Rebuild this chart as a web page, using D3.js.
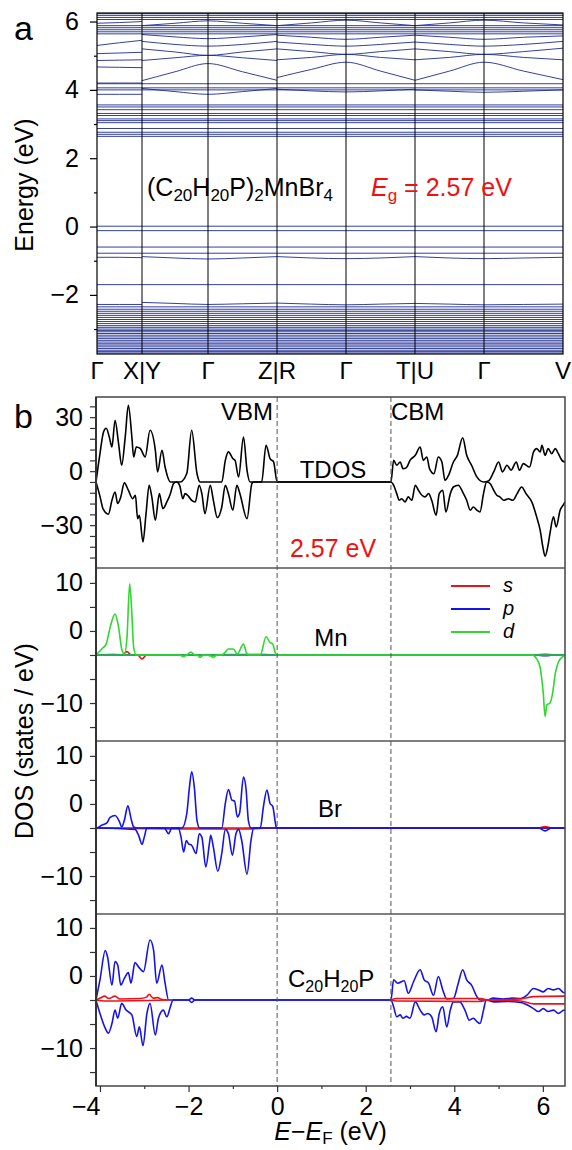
<!DOCTYPE html>
<html>
<head>
<meta charset="utf-8">
<script src="https://cdn.jsdelivr.net/npm/d3@7"></script>
<style>
  body { margin: 0; background: #fff; }
  svg { display: block; font-family: "Liberation Sans", Arial, sans-serif; }
</style>
</head>
<body>
<svg id="chart" width="572" height="1150"></svg>
<script>
// ---- band structure (panel a) ----
const kLabels = ['Γ', 'X|Y', 'Γ', 'Z|R', 'Γ', 'T|U', 'Γ', 'V'];
const kNodes = [0, 0.45, 1.11, 1.80, 2.49, 3.18, 3.87, 4.66];
// sample positions along the path (break points X|Y, Z|R, T|U appear twice)
const kSamples = [0, 0.225, 0.45, 0.45, 0.78, 1.11, 1.455, 1.80, 1.80, 2.145, 2.49, 2.835, 3.18, 3.18, 3.525, 3.87, 4.265, 4.66];
const energyTicks = [-2, 0, 2, 4, 6];
const energyMinor = [-3, -1, 1, 3, 5];

const flatBands = [
  0.01, -0.12, -0.60, -0.78, -1.70,
  -2.35, -2.42, -2.48, -2.54, -2.60, -2.66, -2.72, -2.78, -2.84, -2.90, -2.95,
  -3.00, -3.04, -3.08, -3.13, -3.18, -3.23, -3.28, -3.33, -3.38, -3.43, -3.47,
  -3.52, -3.57, -3.62, -3.66, -3.70,
  2.64, 2.70, 2.76, 2.87, 3.04, 3.10, 3.15, 3.25, 3.31, 3.42, 3.50, 3.56,
  4.00, 4.06, 4.18, 5.64, 5.70, 5.76, 5.82, 5.88, 6.06, 6.12, 6.18, 6.23
];
const dispersiveBands = [
  [4.20, 4.20, 4.20, 4.27, 4.53, 4.77, 4.53, 4.28, 4.36, 4.60, 4.81, 4.55, 4.28, 4.28, 4.55, 4.81, 4.55, 4.30],
  [4.67, 4.66, 4.65, 4.86, 4.94, 5.01, 4.94, 4.86, 4.88, 4.95, 5.04, 4.95, 4.88, 4.88, 4.95, 5.04, 4.95, 4.88],
  [4.86, 4.87, 4.88, 5.20, 5.11, 5.01, 5.11, 5.20, 5.20, 5.12, 5.04, 5.12, 5.20, 5.20, 5.12, 5.04, 5.12, 5.22],
  [5.06, 5.08, 5.10, 5.42, 5.33, 5.28, 5.33, 5.42, 5.40, 5.33, 5.28, 5.33, 5.40, 5.40, 5.33, 5.28, 5.33, 5.42],
  [3.87, 3.87, 3.87, 4.04, 3.95, 3.87, 3.95, 4.04, 4.02, 3.97, 3.94, 3.97, 4.02, 4.00, 3.96, 3.93, 3.96, 4.00],
  [5.30, 5.38, 5.45, 5.62, 5.55, 5.50, 5.55, 5.62, 5.60, 5.54, 5.48, 5.54, 5.60, 5.60, 5.54, 5.48, 5.54, 5.58],
  [5.95, 5.97, 6.00, 5.88, 5.95, 6.02, 5.95, 5.88, 5.88, 5.96, 6.04, 5.96, 5.88, 5.88, 5.96, 6.04, 5.96, 5.90],
  [-2.28, -2.28, -2.28, -2.22, -2.25, -2.28, -2.26, -2.24, -2.24, -2.27, -2.29, -2.27, -2.25, -2.25, -2.27, -2.29, -2.28, -2.27],
  [-0.90, -0.90, -0.91, -0.88, -0.92, -0.95, -0.92, -0.88, -0.88, -0.92, -0.94, -0.92, -0.88, -0.88, -0.92, -0.94, -0.92, -0.90]
];

// ---- density of states (panel b), [E - EF, DOS] ----
const gapValue = 2.57;
const eTicks = [-4, -2, 0, 2, 4, 6];
const eMinor = [-3, -1, 1, 3, 5];
const tdosTicks = [-42, -36, -30, -24, -18, -12, -6, 0, 6, 12, 18, 24, 30, 36, 42];
const tdosLabelAt = [36, 6, -24];
const tdosLabels = ['30', '0', '−30'];
const pdosTicks = [-15, -10, -5, 0, 5, 10, 15];
const pdosLabelAt = [15, 5, -10];
const pdosLabels = ['10', '0', '−10'];

const tdosUp = [[-4.09,0],[-4.0,15.8],[-3.92,27.8],[-3.86,29.8],[-3.79,25],[-3.73,19.4],[-3.66,34.3],[-3.58,21.3],[-3.51,9.3],[-3.43,25],[-3.36,42.6],[-3.28,25],[-3.24,13.9],[-3.18,19.4],[-3.09,18.6],[-2.98,13.9],[-2.87,28.7],[-2.75,17.6],[-2.70,5.6],[-2.60,17.6],[-2.53,8.3],[-2.41,0],[-2.19,0],[-2.04,4.7],[-1.93,28.7],[-1.81,4.7],[-1.74,0],[-1.25,0],[-1.17,12],[-1.10,16.7],[-1.0,13],[-0.95,12],[-0.87,2.8],[-0.76,25],[-0.68,6.5],[-0.61,0],[-0.35,0],[-0.25,20.4],[-0.16,13],[-0.08,11.1],[0,0],
  [2.57,0],[2.63,12],[2.70,9.3],[2.78,11.1],[2.84,7.4],[2.92,8],[3.0,12],[3.12,14.8],[3.23,19.4],[3.30,12],[3.38,13.9],[3.44,7.4],[3.54,4.6],[3.64,13.9],[3.72,11.1],[3.79,0.9],[3.87,3.7],[3.98,11.1],[4.07,14.8],[4.19,24.6],[4.28,14.8],[4.39,9.3],[4.51,2.8],[4.66,0],[4.77,0.5],[4.89,5.6],[5.0,11.1],[5.09,5.6],[5.19,9.3],[5.28,6.5],[5.40,11.1],[5.47,6.5],[5.56,10.2],[5.70,8.3],[5.79,16.7],[5.86,18.5],[5.94,16.7],[5.98,20.4],[6.05,14.8],[6.12,18.5],[6.20,15.7],[6.28,18.5],[6.35,15.7],[6.43,12],[6.5,11]];
const tdosDown = [[-4.09,0],[-4.0,-8],[-3.93,-15],[-3.81,-17.9],[-3.73,-10.2],[-3.66,-5.6],[-3.60,-12],[-3.53,-8.3],[-3.45,-0.5],[-3.36,-4.6],[-3.26,-9.3],[-3.20,-7.4],[-3.15,-20.4],[-3.11,-18.5],[-3.03,-33.3],[-2.96,-17.6],[-2.89,-1.8],[-2.83,-8.3],[-2.75,-21.3],[-2.66,-6.5],[-2.58,-14.8],[-2.49,-11.1],[-2.41,-6.5],[-2.34,-0.9],[-2.27,0],[-2.20,-2],[-2.13,-9.3],[-2.08,-6.5],[-2.0,-8],[-1.93,-10.2],[-1.85,-11.1],[-1.76,-1.8],[-1.70,-6.5],[-1.63,-17.6],[-1.51,-1.8],[-1.44,-10.2],[-1.35,-19.8],[-1.25,-13.9],[-1.17,-1.8],[-1.10,-6.5],[-1.0,-15.7],[-0.91,-1.8],[-0.84,-6.5],[-0.68,-20.4],[-0.57,-0.9],[-0.53,0],[0,0],
  [2.57,0],[2.63,-1.8],[2.70,-6.5],[2.76,-10.2],[2.81,-9.3],[2.89,-11.1],[2.96,-8.3],[3.04,-10.2],[3.12,-1.8],[3.19,-4.6],[3.27,-7.4],[3.34,-8.3],[3.42,-6.5],[3.49,-10.2],[3.59,-18.5],[3.66,-6.5],[3.74,-4.6],[3.81,-16.7],[3.91,-6.5],[3.98,-2.8],[4.09,-1.8],[4.19,-5.6],[4.28,-10.2],[4.36,-15.7],[4.43,-13.9],[4.51,-15.7],[4.58,-16.7],[4.66,-6.5],[4.73,0],[4.81,-0.9],[4.89,-4.6],[4.96,-7.4],[5.03,-8.3],[5.12,-10.2],[5.22,-9.3],[5.32,-10.2],[5.42,-6.5],[5.52,-2.8],[5.62,-6.5],[5.75,-11.1],[5.86,-19.4],[5.94,-26.9],[6.0,-36.1],[6.05,-41.3],[6.11,-36.1],[6.16,-28.7],[6.24,-19.4],[6.30,-25],[6.39,-15.7],[6.48,-12],[6.5,-11]];

const mnSUp = [[-4.09,0],[-3.5,0],[-3.39,0.7],[-3.3,0],[5.85,0],[6.05,0.15],[6.25,0],[6.5,0]];
const mnSDown = [[-4.09,0],[-3.15,0],[-3.05,-0.8],[-2.95,0],[6.5,0]];
const mnPUp = [[-4.09,0],[-3.7,0.1],[-3.3,0],[-0.3,0.1],[0,0],[6.5,0]];
const mnPDown = [[-4.09,0],[5.85,0],[6.05,-0.15],[6.25,0],[6.5,0]];
const mnDUp = [[-4.09,0],[-3.96,1.25],[-3.86,2.3],[-3.77,5.8],[-3.66,8.5],[-3.58,5.8],[-3.51,1.25],[-3.45,0.2],[-3.39,3.7],[-3.33,14.8],[-3.28,8.5],[-3.24,1.6],[-3.18,0],[-2.05,0],[-1.95,0.6],[-1.85,0],[-1.25,0],[-1.17,0.6],[-1.10,1.25],[-0.99,1.25],[-0.90,0.2],[-0.76,2.3],[-0.68,0.2],[-0.60,0],[-0.38,0],[-0.25,3.8],[-0.16,2.6],[-0.10,2.3],[-0.02,0],[6.5,0]];
const mnDDown = [[-4.09,0],[-2.2,0],[-2.12,-0.3],[-2.02,0],[-1.80,0],[-1.74,-0.5],[-1.66,0],[-1.50,-0.2],[-1.44,-0.5],[-1.36,0],[5.75,0],[5.86,-0.8],[5.94,-2.6],[5.98,-5.4],[6.01,-8],[6.05,-12.8],[6.09,-10.4],[6.16,-10],[6.22,-8],[6.28,-3.9],[6.35,-1.5],[6.43,-0.5],[6.5,0]];

const brSUp = [[-4.09,0],[5.9,0],[6.05,0.3],[6.2,0],[6.5,0]];
const brSDown = [[-4.09,0],[-1.95,-0.2],[-0.8,-0.2],[0,0],[6.5,0]];
const brPUp = [[-4.09,0],[-4.07,0],[-3.96,0.6],[-3.85,1.0],[-3.77,2.2],[-3.66,2.6],[-3.56,1.3],[-3.51,0.2],[-3.45,1.6],[-3.37,4.6],[-3.30,2.0],[-3.24,0.2],[-3.18,0],[-2.15,0],[-2.04,3],[-1.98,8.5],[-1.93,11.7],[-1.87,8.5],[-1.81,1.6],[-1.75,0],[-1.25,0],[-1.17,5.1],[-1.10,8.0],[-1.02,5.8],[-0.96,5.6],[-0.90,2.3],[-0.85,3],[-0.76,10.6],[-0.70,7.9],[-0.65,1.6],[-0.59,0],[-0.38,0],[-0.31,4.4],[-0.23,7.9],[-0.16,5.1],[-0.10,4.5],[-0.02,0.2],[0,0],[6.5,0]];
const brPDown = [[-4.09,0],[-3.21,-0.3],[-3.13,-1.5],[-3.05,-3.4],[-3.0,-1.9],[-2.94,0],[-2.55,0],[-2.45,-1.2],[-2.38,0],[-2.23,0],[-2.17,-1.9],[-2.11,-5.0],[-2.05,-2.6],[-2.0,-3.3],[-1.93,-3.6],[-1.83,-5.3],[-1.76,-1.2],[-1.70,-1.9],[-1.61,-8.1],[-1.53,-3.3],[-1.50,-1.5],[-1.44,-4.0],[-1.34,-9.0],[-1.25,-5.3],[-1.17,-0.3],[-1.10,-1.2],[-1.01,-5.7],[-0.93,-1.2],[-0.87,-0.3],[-0.80,-2.6],[-0.68,-9.6],[-0.59,-2.6],[-0.53,0],[5.9,0],[6.05,-0.6],[6.2,0],[6.5,0]];

const cSUp = [[-4.09,0],[-3.97,0.5],[-3.90,0.8],[-3.80,0.3],[-3.66,0.8],[-3.55,0.2],[-3.1,0.3],[-2.95,0.6],[-2.89,1.2],[-2.80,0.4],[-2.70,0.5],[-2.6,0.1],[-2.45,0],[-2.4,null],[2.57,0],[2.7,0.3],[4.6,0.3],[4.75,0],[5.5,0.2],[5.8,0.7],[6.5,0.8]];
const cSDown = [[-4.09,0],[-3.9,-0.2],[-2.45,0],[-2.4,null],[2.57,0],[2.7,-0.2],[4.6,-0.3],[4.75,0],[5.5,-0.2],[5.8,-0.8],[6.5,-0.8]];
const cPUp = [[-4.09,0],[-4.0,4.2],[-3.88,10.3],[-3.83,9.0],[-3.73,3.1],[-3.66,8.0],[-3.60,7.3],[-3.53,3.1],[-3.45,4.5],[-3.36,5.7],[-3.30,3.5],[-3.21,7.8],[-3.13,6.9],[-3.02,5.9],[-2.87,12.5],[-2.79,10.4],[-2.72,3.5],[-2.60,7.3],[-2.53,3.5],[-2.45,0],[-2.0,0],[-1.93,0.4],[-1.86,0],[2.57,0],[2.63,4.2],[2.72,3.5],[2.87,4.0],[2.96,1.4],[3.08,3.8],[3.23,6.3],[3.32,4.2],[3.42,3.5],[3.53,1.0],[3.64,4.9],[3.74,2.1],[3.83,0.2],[3.98,0.3],[4.09,3.5],[4.19,6.3],[4.28,4.2],[4.39,3.1],[4.51,0.7],[4.58,0],[4.75,0],[4.88,0.4],[5.1,0.2],[5.3,0.4],[5.5,0.3],[5.64,1.0],[5.79,2.4],[5.90,2.1],[6.01,1.7],[6.12,2.4],[6.24,2.1],[6.35,2.4],[6.48,1.5],[6.5,1.5]];
const cPDown = [[-4.09,0],[-4.0,-2.8],[-3.88,-5.9],[-3.81,-6.9],[-3.73,-4.9],[-3.66,-2.1],[-3.60,-3.8],[-3.51,-0.7],[-3.41,-2.1],[-3.28,-3.1],[-3.17,-7.6],[-3.11,-5.6],[-3.03,-9.5],[-2.94,-2.8],[-2.87,-0.7],[-2.75,-7.3],[-2.68,-3.8],[-2.57,-2.1],[-2.49,-3.5],[-2.41,-1.4],[-2.35,0],[-2.0,0],[-1.93,-0.5],[-1.86,0],[2.57,0],[2.63,-1.4],[2.70,-3.5],[2.78,-3.1],[2.84,-3.8],[2.92,-3.4],[3.0,-3.8],[3.12,-0.4],[3.23,-2.1],[3.32,-3.1],[3.40,-2.8],[3.49,-3.5],[3.59,-6.6],[3.66,-2.8],[3.74,-1.4],[3.83,-5.6],[3.91,-2.1],[3.98,-0.4],[4.12,-0.4],[4.24,-2.1],[4.34,-4.2],[4.43,-3.8],[4.51,-4.5],[4.58,-4.9],[4.66,-2.1],[4.72,0],[4.9,-0.4],[5.2,-0.3],[5.5,-0.5],[5.64,-1.0],[5.79,-1.8],[5.90,-2.4],[6.01,-1.8],[6.12,-2.4],[6.24,-2.1],[6.35,-2.8],[6.48,-2.1],[6.5,-2.1]];

const orbitalNames = ['s', 'p', 'd'];
const colors = { s: '#e8141c', p: '#1414e6', d: '#2ed82e', band: '#1d2b8e' };

// ---------------------------------------------------------------
const svg = d3.select('#chart');

// text with subscripts: parts are [text, isSub, isItalic]
function richText(sel, parts, size, subSize, shift) {
  let prevSub = false;
  parts.forEach(([t, sub, italic]) => {
    const dy = (sub ? shift : 0) - (prevSub ? shift : 0);
    sel.append('tspan')
      .attr('font-size', sub ? subSize : size)
      .attr('font-style', italic ? 'italic' : null)
      .attr('dy', dy)
      .text(t);
    prevSub = sub;
  });
}

// ===== panel a: band structure =====
const A = { left: 97, right: 563, top: 13, bottom: 354 };
const xA = d3.scaleLinear().domain([0, 4.66]).range([A.left, A.right]);
const yA = d3.scaleLinear().domain([-3.73, 6.25]).range([A.bottom, A.top]);

svg.append('clipPath').attr('id', 'clipA').append('rect')
  .attr('x', A.left).attr('y', A.top)
  .attr('width', A.right - A.left).attr('height', A.bottom - A.top);

const gBands = svg.append('g').attr('clip-path', 'url(#clipA)');

gBands.selectAll('line.flat')
  .data(flatBands)
  .join('line')
  .attr('class', 'flat')
  .attr('x1', xA(kNodes[0]))
  .attr('x2', xA(kNodes[kNodes.length - 1]))
  .attr('y1', d => yA(d))
  .attr('y2', d => yA(d))
  .attr('stroke', colors.band)
  .attr('stroke-width', 0.9);

const bandLine = d3.line()
  .x(d => xA(d[0]))
  .y(d => yA(d[1]))
  .curve(d3.curveMonotoneX);

// split each band into its path segments at the break points
const bandPieces = [];
dispersiveBands.forEach(band => {
  let piece = [];
  band.forEach((e, i) => {
    if (i > 0 && kSamples[i] === kSamples[i - 1]) {
      bandPieces.push(piece);
      piece = [];
    }
    piece.push([kSamples[i], e]);
  });
  bandPieces.push(piece);
});

gBands.selectAll('path.band')
  .data(bandPieces)
  .join('path')
  .attr('class', 'band')
  .attr('d', bandLine)
  .attr('fill', 'none')
  .attr('stroke', colors.band)
  .attr('stroke-width', 0.9);

// high-symmetry lines
svg.append('g').selectAll('line')
  .data(kNodes.slice(1, -1))
  .join('line')
  .attr('x1', d => xA(d)).attr('x2', d => xA(d))
  .attr('y1', A.top).attr('y2', A.bottom)
  .attr('stroke', '#000').attr('stroke-width', 1);

svg.append('rect')
  .attr('x', A.left).attr('y', A.top)
  .attr('width', A.right - A.left).attr('height', A.bottom - A.top)
  .attr('fill', 'none').attr('stroke', '#000').attr('stroke-width', 1.2);

// energy axis
const axA = svg.append('g')
  .attr('transform', `translate(${A.left},0)`)
  .call(d3.axisLeft(yA).tickValues(energyTicks).tickSize(7).tickPadding(11));
const axAm = svg.append('g')
  .attr('transform', `translate(${A.left},0)`)
  .call(d3.axisLeft(yA).tickValues(energyMinor).tickSize(3).tickFormat(''));
[axA, axAm].forEach(g => {
  g.select('.domain').remove();
  g.selectAll('line').attr('stroke', '#000').attr('stroke-width', 1.2);
});
axA.selectAll('text')
  .attr('font-size', 25).attr('fill', '#000')
  .attr('font-family', '"Liberation Sans", Arial, sans-serif');

svg.append('g').selectAll('text')
  .data(kLabels)
  .join('text')
  .attr('x', (d, i) => xA(kNodes[i]))
  .attr('y', 379)
  .attr('text-anchor', 'middle')
  .attr('font-size', 24)
  .text(d => d);

svg.append('text')
  .attr('transform', `translate(33,185) rotate(-90)`)
  .attr('text-anchor', 'middle')
  .attr('font-size', 25)
  .text('Energy (eV)');

svg.append('text').attr('x', 14).attr('y', 40).attr('font-size', 34).text('a');

// formula and gap text
richText(svg.append('text').attr('x', 147).attr('y', 196),
  [['(C', 0], ['20', 1], ['H', 0], ['20', 1], ['P)', 0], ['2', 1], ['MnBr', 0], ['4', 1]], 25, 17, 5);

richText(svg.append('text').attr('x', 371).attr('y', 196).attr('fill', '#f01010'),
  [['E', 0, 1], ['g', 1], [` = ${gapValue.toFixed(2)} eV`, 0]], 25, 17, 5);

// ===== panel b: DOS =====
const B = { left: 96, right: 565, top: 397, bottom: 1086 };
const xB = d3.scaleLinear().domain([-4.09, 6.5]).range([B.left, B.right]);

const panels = [
  { top: 397, bottom: 568, domain: [-47.8, 47.2], ticks: tdosTicks, labelAt: tdosLabelAt, labels: tdosLabels,
    series: [{ data: tdosUp, color: '#000' }, { data: tdosDown, color: '#000' }] },
  { top: 568, bottom: 741, domain: [-17.9, 18.1], ticks: pdosTicks, labelAt: pdosLabelAt, labels: pdosLabels,
    series: [{ data: mnSUp, color: colors.s }, { data: mnSDown, color: colors.s },
             { data: mnPUp, color: colors.p }, { data: mnPDown, color: colors.p },
             { data: mnDUp, color: colors.d }, { data: mnDDown, color: colors.d }] },
  { top: 741, bottom: 914, domain: [-17.9, 18.1], ticks: pdosTicks, labelAt: pdosLabelAt, labels: pdosLabels,
    series: [{ data: brSUp, color: colors.s }, { data: brSDown, color: colors.s },
             { data: brPUp, color: colors.p }, { data: brPDown, color: colors.p }] },
  { top: 914, bottom: 1086, domain: [-17.9, 17.9], ticks: pdosTicks, labelAt: pdosLabelAt, labels: pdosLabels,
    series: [{ data: cPUp, color: colors.p }, { data: cPDown, color: colors.p },
             { data: cSUp, color: colors.s }, { data: cSDown, color: colors.s }] }
];

panels.forEach((p, i) => {
  const y = d3.scaleLinear().domain(p.domain).range([p.bottom, p.top]);
  const clipId = `clipB${i}`;
  svg.append('clipPath').attr('id', clipId).append('rect')
    .attr('x', B.left).attr('y', p.top)
    .attr('width', B.right - B.left).attr('height', p.bottom - p.top);

  const line = d3.line()
    .defined(d => d[1] !== null)
    .x(d => xB(d[0]))
    .y(d => y(d[1]))
    .curve(d3.curveMonotoneX);

  svg.append('g').attr('clip-path', `url(#${clipId})`)
    .selectAll('path')
    .data(p.series)
    .join('path')
    .attr('d', d => line(d.data))
    .attr('fill', 'none')
    .attr('stroke', d => d.color)
    .attr('stroke-width', 1.6)
    .attr('stroke-linejoin', 'round');

  const tk = svg.append('g')
    .attr('transform', `translate(${B.left},0)`)
    .call(d3.axisLeft(y).tickValues(p.ticks).tickSize(6).tickFormat(''));
  tk.select('.domain').remove();
  tk.selectAll('line').attr('stroke', '#333').attr('stroke-width', 1.2);

  const lb = svg.append('g')
    .attr('transform', `translate(${B.left},0)`)
    .call(d3.axisLeft(y).tickValues(p.labelAt).tickSize(0).tickPadding(13)
      .tickFormat((d, j) => p.labels[j]));
  lb.select('.domain').remove();
  lb.selectAll('text').attr('font-size', 25).attr('fill', '#000')
    .attr('font-family', '"Liberation Sans", Arial, sans-serif');
});

// dashed VBM / CBM markers
svg.append('g').selectAll('line')
  .data([0, gapValue])
  .join('line')
  .attr('x1', d => xB(d)).attr('x2', d => xB(d))
  .attr('y1', B.top).attr('y2', B.bottom)
  .attr('stroke', '#555').attr('stroke-width', 1)
  .attr('stroke-dasharray', '5,3');

// frames and separators
svg.append('g').selectAll('line')
  .data(panels.slice(1).map(p => p.top))
  .join('line')
  .attr('x1', B.left).attr('x2', B.right)
  .attr('y1', d => d).attr('y2', d => d)
  .attr('stroke', '#555').attr('stroke-width', 1.5);
svg.append('rect')
  .attr('x', B.left).attr('y', B.top)
  .attr('width', B.right - B.left).attr('height', B.bottom - B.top)
  .attr('fill', 'none').attr('stroke', '#444').attr('stroke-width', 1.5);
svg.append('line')
  .attr('x1', B.left).attr('x2', B.left).attr('y1', B.top).attr('y2', B.bottom)
  .attr('stroke', '#333').attr('stroke-width', 2);

// energy axis of the DOS
const axB = svg.append('g')
  .attr('transform', `translate(0,${B.bottom})`)
  .call(d3.axisBottom(xB).tickValues(eTicks).tickSize(6).tickPadding(5));
const axBm = svg.append('g')
  .attr('transform', `translate(0,${B.bottom})`)
  .call(d3.axisBottom(xB).tickValues(eMinor).tickSize(3).tickFormat(''));
[axB, axBm].forEach(g => {
  g.select('.domain').remove();
  g.selectAll('line').attr('stroke', '#333').attr('stroke-width', 1.2);
});
axB.selectAll('text')
  .attr('font-size', 25).attr('fill', '#000')
  .attr('font-family', '"Liberation Sans", Arial, sans-serif')
  .attr('text-anchor', (d, i) => i === 0 ? 'end' : 'middle');

richText(svg.append('text').attr('x', (B.left + B.right) / 2).attr('y', 1140).attr('text-anchor', 'middle'),
  [['E', 0, 1], ['−', 0], ['E', 0, 1], ['F', 1], [' (eV)', 0]], 25, 17, 4);

svg.append('text')
  .attr('transform', `translate(33,741) rotate(-90)`)
  .attr('text-anchor', 'middle')
  .attr('font-size', 25)
  .text('DOS (states / eV)');

svg.append('text').attr('x', 14).attr('y', 428).attr('font-size', 34).text('b');

// in-panel annotations
svg.append('text').attr('x', 273).attr('y', 420).attr('text-anchor', 'end').attr('font-size', 24).text('VBM');
svg.append('text').attr('x', 391).attr('y', 420).attr('font-size', 24).text('CBM');
svg.append('text').attr('x', 333).attr('y', 478).attr('text-anchor', 'middle').attr('font-size', 24).text('TDOS');
svg.append('text').attr('x', 290).attr('y', 557).attr('font-size', 25).attr('fill', '#f01010')
  .text(`${gapValue.toFixed(2)} eV`);
svg.append('text').attr('x', 331).attr('y', 646).attr('text-anchor', 'middle').attr('font-size', 24).text('Mn');
svg.append('text').attr('x', 330).attr('y', 817).attr('text-anchor', 'middle').attr('font-size', 24).text('Br');

richText(svg.append('text').attr('x', 288).attr('y', 987),
  [['C', 0], ['20', 1], ['H', 0], ['20', 1], ['P', 0]], 24, 16, 5);

// legend
const lg = svg.append('g').selectAll('g')
  .data(orbitalNames)
  .join('g')
  .attr('transform', (d, i) => `translate(451,${586 + i * 23})`);
lg.append('line').attr('x1', 0).attr('x2', 39)
  .attr('stroke', d => colors[d]).attr('stroke-width', 2);
lg.append('text').attr('x', 52).attr('y', 6)
  .attr('font-size', 20).attr('font-style', 'italic').text(d => d);
</script>
</body>
</html>
